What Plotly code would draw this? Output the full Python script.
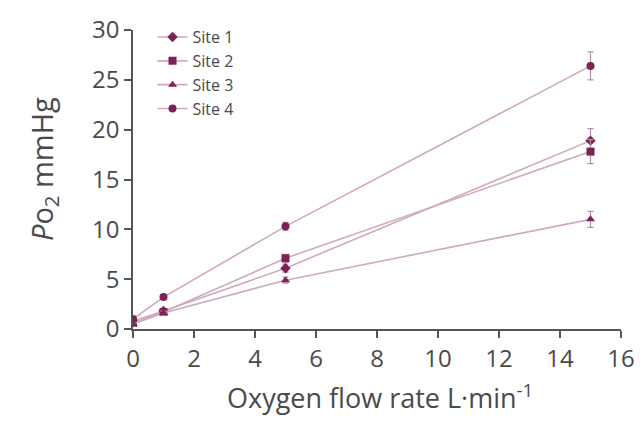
import plotly.graph_objects as go

flow = [0, 1, 5, 15]
site_names = ["Site 1", "Site 2", "Site 3", "Site 4"]
site1 = [0.8, 1.8, 6.1, 18.9]
site2 = [0.6, 1.7, 7.1, 17.8]
site3 = [0.5, 1.6, 4.9, 11.0]
site4 = [1.0, 3.2, 10.3, 26.4]
err1 = [0.2, 0.2, 0.4, 1.2]
err2 = [0.2, 0.2, 0.4, 1.2]
err3 = [0.2, 0.2, 0.3, 0.8]
err4 = [0.2, 0.2, 0.4, 1.4]
x_ticks = [0, 2, 4, 6, 8, 10, 12, 14, 16]
y_ticks = [0, 5, 10, 15, 20, 25, 30]

symbols = ["diamond", "square", "triangle-up", "circle"]
series = [site1, site2, site3, site4]
errs = [err1, err2, err3, err4]

marker_col = "#7d2255"
line_col = "#cfa9bf"
text_col = "#4a4a4a"
font_fam = "Open Sans, Noto Sans, sans-serif"

fig = go.Figure()
for name, ys, e, sym in zip(site_names, series, errs, symbols):
    fig.add_trace(go.Scatter(
        x=flow, y=ys, name=name, mode="lines+markers",
        line=dict(color=line_col, width=1.6),
        marker=dict(symbol=sym, size=8, color=marker_col),
        error_y=dict(type="data", array=e, color="#b88fa8", thickness=1.2, width=3),
    ))

axis_common = dict(
    showline=True, linecolor="#555555", linewidth=1.5,
    ticks="outside", tickcolor="#555555", ticklen=7, tickwidth=1.5,
    showgrid=False, zeroline=False, automargin=False,
    ticklabeloverflow="allow",
    tickfont=dict(family=font_fam, size=24, color=text_col),
)

fig.update_layout(
    width=636, height=413,
    paper_bgcolor="white", plot_bgcolor="white",
    margin=dict(l=125, r=23, t=18, b=92),
    font=dict(family=font_fam, color=text_col),
    xaxis=dict(range=[0, 16], tickvals=x_ticks, **axis_common),
    yaxis=dict(range=[0, 30], tickvals=y_ticks, **axis_common),
    legend=dict(x=0.04, y=1.033, xanchor="left", yanchor="top",
                bgcolor="rgba(0,0,0,0)", font=dict(family=font_fam, size=16, color=text_col),
                itemwidth=30, tracegroupgap=0),
    showlegend=True,
    annotations=[
        dict(text="Oxygen flow rate L·min<sup>-1</sup>", xref="paper", yref="paper",
             x=0.507, y=0, xanchor="center", yanchor="middle", yshift=-67,
             showarrow=False, font=dict(family=font_fam, size=27, color=text_col)),
        dict(text="<i>P</i>o<sub>2</sub> mmHg", xref="paper", yref="paper",
             x=0, y=0.535, xanchor="center", yanchor="middle", xshift=-90,
             textangle=-90, showarrow=False,
             font=dict(family=font_fam, size=29, color=text_col)),
    ],
)

fig.write_html("out.html")
